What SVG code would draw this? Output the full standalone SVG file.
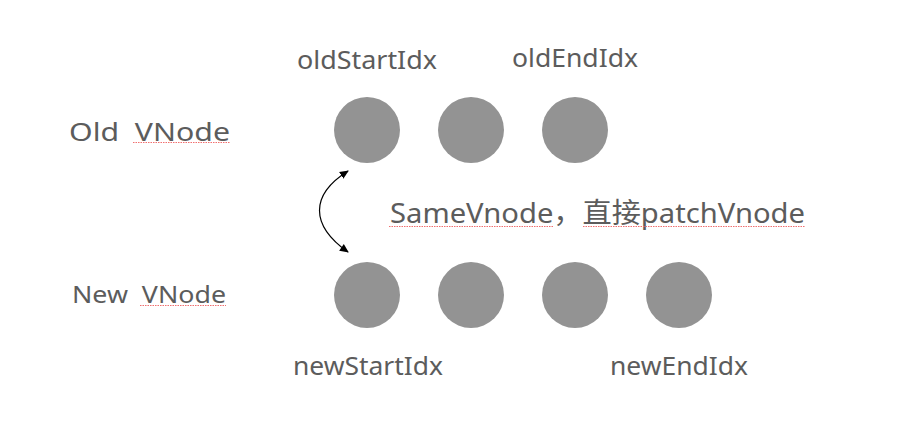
<svg xmlns="http://www.w3.org/2000/svg" width="906" height="430" viewBox="0 0 906 430">
<style>
text{font-family:"Noto Sans","Open Sans","Noto Sans CJK SC",sans-serif;fill:#5c5c5c;white-space:pre}
.n{fill:#939393}
.sq{stroke:#f07070;stroke-width:1.2;stroke-dasharray:1.5 1;fill:none}
</style>
<defs>
<marker id="ah" markerWidth="10" markerHeight="10" refX="8" refY="5" orient="auto" markerUnits="userSpaceOnUse">
<path d="M0,1 L9,5 L0,9 Z" fill="#000"/>
</marker>
<marker id="ahs" markerWidth="10" markerHeight="10" refX="1" refY="5" orient="auto" markerUnits="userSpaceOnUse">
<path d="M9,1 L0,5 L9,9 Z" fill="#000"/>
</marker>
</defs>
<rect width="906" height="430" fill="#fff"/>
<g id="labels">
<text x="69" y="141" font-size="26" textLength="161" lengthAdjust="spacingAndGlyphs" xml:space="preserve">Old  VNode</text>
<text x="72" y="303" font-size="23" textLength="154" lengthAdjust="spacingAndGlyphs" xml:space="preserve">New  VNode</text>
<text x="297" y="69" font-size="26" textLength="140" lengthAdjust="spacingAndGlyphs">oldStartIdx</text>
<text x="512" y="67" font-size="26" textLength="126" lengthAdjust="spacingAndGlyphs">oldEndIdx</text>
<text x="293" y="375" font-size="26" textLength="150" lengthAdjust="spacingAndGlyphs">newStartIdx</text>
<text x="610" y="375" font-size="26" textLength="138" lengthAdjust="spacingAndGlyphs">newEndIdx</text>
<text x="390" y="223" font-size="28" textLength="415" lengthAdjust="spacingAndGlyphs">SameVnode，直接patchVnode</text>
<line class="sq" x1="133" y1="142.5" x2="230" y2="142.5"/>
<line class="sq" x1="140" y1="305.5" x2="226" y2="305.5"/>
<line class="sq" x1="389" y1="226.5" x2="553" y2="226.5"/>
<line class="sq" x1="583" y1="226.5" x2="805" y2="226.5"/>
</g>
<g id="old1"><circle class="n" cx="367" cy="130" r="33"/></g>
<g id="old2"><circle class="n" cx="471" cy="130" r="33"/></g>
<g id="old3"><circle class="n" cx="575" cy="130" r="33"/></g>
<g id="new1"><circle class="n" cx="367" cy="295" r="33"/></g>
<g id="new2"><circle class="n" cx="471" cy="295" r="33"/></g>
<g id="new3"><circle class="n" cx="575" cy="295" r="33"/></g>
<g id="new4"><circle class="n" cx="679" cy="295" r="33"/></g>
<g id="connectors">
<path d="M348,252 C310,225 310,195 348,171" fill="none" stroke="#000" stroke-width="1.2" marker-end="url(#ah)" marker-start="url(#ahs)"/>
</g>
</svg>
